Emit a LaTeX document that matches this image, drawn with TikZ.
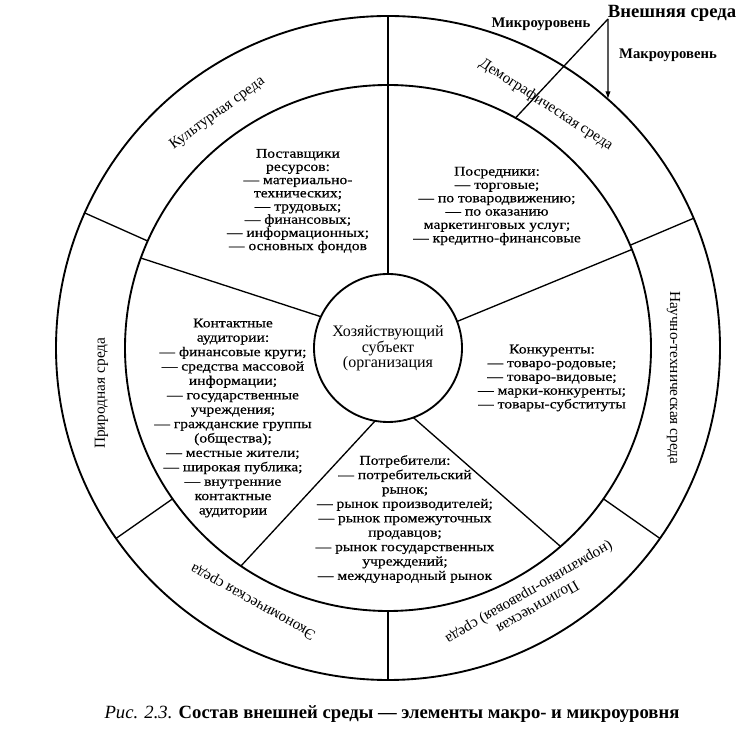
\documentclass[tikz,border=0pt]{standalone}
\usepackage{fontspec}
\setmainfont{Liberation Serif}
\newfontfamily\widefont[FakeStretch=1.17,FakeBold=0.5]{Liberation Serif}
\usetikzlibrary{arrows.meta,calc}

\begin{document}
\begin{tikzpicture}[x=0.75pt, y=0.75pt, line width=1pt,
  ring/.style={line width=1.4pt},
  sector/.style={align=center, inner sep=0pt, font=\widefont\fontsize{10}{10.8}\selectfont},
  envtext/.style={align=center, inner sep=0pt, font=\fontsize{11.5}{12.5}\selectfont},
  level/.style={inner sep=0pt, font=\bfseries\fontsize{11}{12}\selectfont}]
  \useasboundingbox (0,0) rectangle (750,746);
  \coordinate (c) at (388,398);

  % three circles
  \draw[ring] (c) circle (332);
  \draw[ring] (c) circle (263);
  \draw[ring] (c) circle (74);

  % dividers of the macro ring
  \draw ($(c)+(90:74)$) -- ($(c)+(90:332)$);
  \foreach \a in {23,156,215,270,325}
    \draw ($(c)+(\a:263)$) -- ($(c)+(\a:332)$);
  % dividers of the micro ring
  \foreach \a/\b in {155/160, 21/22, 260/236, 290/311}
    \draw ($(c)+(\a:74)$) -- ($(c)+(\b:263)$);

  % macro environment
  \node[envtext, rotate=36] (kult) at ($(c)+(126:290)$) {Культурная среда};
  \node[envtext, rotate=-33] (demo) at ($(c)+(57:290)$) {Демографическая среда};
  \node[envtext, rotate=-90] (nauch) at ($(c)+(-6:287)$) {Научно-техническая среда};
  \node[envtext, rotate=210] (polit) at ($(c)+(300:290)$) {Политическая\\(нормативно-правовая) среда};
  \node[envtext, rotate=151] (econ) at ($(c)+(242:287)$) {Экономическая среда};
  \node[envtext, rotate=90] (prir) at ($(c)+(189:290)$) {Природная среда};

  % micro environment
  \node[sector, font=\widefont\fontsize{10}{9.9}\selectfont] (post) at (298,545) {Поставщики\\ресурсов:\\— материально-\\технических;\\— трудовых;\\— финансовых;\\— информационных;\\— основных фондов};
  \node[sector, font=\widefont\fontsize{10}{10}\selectfont] (posr) at (497,540) {Посредники:\\— торговые;\\— по товародвижению;\\— по оказанию\\маркетинговых услуг;\\— кредитно-финансовые};
  \node[sector, font=\widefont\fontsize{10}{10.3}\selectfont] (konk) at (552,368) {Конкуренты:\\— товаро-родовые;\\— товаро-видовые;\\— марки-конкуренты;\\— товары-субституты};
  \node[sector] (potr) at (405,227) {Потребители:\\— потребительский\\рынок;\\— рынок производителей;\\— рынок промежуточных\\продавцов;\\— рынок государственных\\учреждений;\\— международный рынок};
  \node[sector] (kont) at (233,328) {Контактные\\аудитории:\\— финансовые круги;\\— средства массовой\\информации;\\— государственные\\учреждения;\\— гражданские группы\\(общества);\\— местные жители;\\— широкая публика;\\— внутренние\\контактные\\аудитории};
  \node[align=center, inner sep=0pt, font=\fontsize{12}{11}\selectfont] (org) at (c) {Хозяйствующий\\субъект\\(организация};

  % levels
  \node[level, font=\bfseries\fontsize{14}{14}\selectfont] (ext) at (672,733) {Внешняя среда};
  \node[level] (micro) at (541,722) {Микроуровень};
  \node[level] (macro) at (668,691) {Макроуровень};
  \coordinate (j) at (608,727);
  \draw (j) -- ($(c)+(61:263)$);
  \draw[-{Latex[length=6pt,width=4pt]}] (j) -- ($(c)+(48.5:332)$);

  \node[font=\fontsize{14}{15}\selectfont] (cap) at (392,32) {\textit{Рис. 2.3.} \textbf{Состав внешней среды — элементы макро- и микроуровня}};
\end{tikzpicture}
\end{document}
